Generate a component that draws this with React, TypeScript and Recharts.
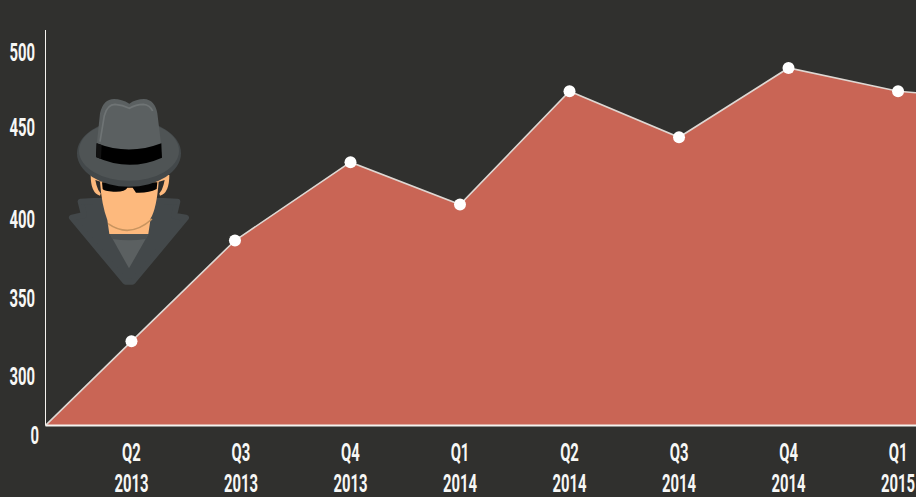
import React from 'react'
import { AreaChart, Area, XAxis, YAxis } from 'recharts'

const quarterPos = [1.215, 2, 2.945, 4, 5, 6, 7, 8, 9, 9.164]
const values = [0, 322.5, 387, 431.5, 408.5, 474.5, 445, 490, 474.5, 473.5]
const quarterTicks = [2, 3, 4, 5, 6, 7, 8, 9]
const quarterLabels = ['Q2', 'Q3', 'Q4', 'Q1', 'Q2', 'Q3', 'Q4', 'Q1']
const yearLabels = ['2013', '2013', '2013', '2014', '2014', '2014', '2014', '2015']
const valueTicks = [0, 300, 350, 400, 450, 500]

// the y axis of the original is not linear, it is broken below 300
const scaleValues = [0, 300, 350, 400, 450, 500, 515]
const scaleFractions = [0, 0.124, 0.3215, 0.519, 0.752, 0.942, 1]

const data = quarterPos.map((q, i) => ({ q, value: values[i] }))

function brokenScale(dom: any = [0, 515], rng: any = [1, 0]) {
  const s: any = (v: number) => {
    let i = 0
    while (i < scaleValues.length - 2 && v > scaleValues[i + 1]) i++
    const t = (v - scaleValues[i]) / (scaleValues[i + 1] - scaleValues[i])
    const f = scaleFractions[i] + t * (scaleFractions[i + 1] - scaleFractions[i])
    return rng[0] + f * (rng[1] - rng[0])
  }
  s.domain = (d?: any) => (d ? brokenScale(d, rng) : dom)
  s.range = (r?: any) => (r ? brokenScale(dom, r) : rng)
  s.copy = () => brokenScale(dom, rng)
  s.ticks = () => valueTicks
  s.bandwidth = () => 0
  return s
}

// the original font is very condensed, so squeeze Roboto sideways
function Label({ x, y, text, anchor = 'middle' }: any) {
  return (
    <text
      transform={`translate(${x},${y}) scale(0.56,1)`}
      textAnchor={anchor}
      dominantBaseline="central"
      fontFamily="Roboto, sans-serif"
      fontWeight={700}
      fontSize={26.5}
      fill="#f7f7f5"
    >
      {text}
    </text>
  )
}

function YTick({ y, payload }: any) {
  if (payload.value === 0) return <Label x={39} y={y + 9} text="0" anchor="end" />
  return <Label x={35} y={y - 1} text={payload.value} anchor="end" />
}

function XTick({ x, payload }: any) {
  const i = quarterTicks.indexOf(payload.value)
  return (
    <g>
      <Label x={x} y={452} text={quarterLabels[i]} />
      <Label x={x} y={483} text={yearLabels[i]} />
    </g>
  )
}

function Dot({ cx, cy, index }: any) {
  if (index === 0 || index === values.length - 1) return <g key={index} />
  return <circle key={index} cx={cx} cy={cy} r={6} fill="#ffffff" />
}

function Spy() {
  return (
    <svg
      viewBox="0 0 480 630"
      width={160}
      height={210}
      style={{ position: 'absolute', left: 50, top: 85 }}
    >
      <path
        d="M92 350 L130 348 L340 348 L382 350 L372 392 L408 398 L248 590 L226 590 L66 398 L102 390 Z"
        fill="#43484a"
        stroke="#43484a"
        strokeWidth={18}
        strokeLinejoin="round"
      />
      <path d="M180 448 L295 448 L237 550 Z" fill="#5b6061" />
      <path d="M180 448 L295 448 L288 462 Q237 470 187 462 Z" fill="#4b5051" />
      <path d="M122 270 Q122 325 150 332 L170 270 Z" fill="#fdb97d" />
      <path d="M358 270 Q358 325 330 332 L310 270 Z" fill="#fdb97d" />
      <path d="M136 285 L156 292 L158 330 Q142 320 136 285 Z" fill="#2b2b2b" />
      <path d="M344 285 L322 292 L322 330 Q338 320 344 285 Z" fill="#2b2b2b" />
      <path
        d="M150 290 L326 290 Q320 370 302 400 L295 447 L178 447 L172 405 Q155 360 150 290 Z"
        fill="#fdb97d"
      />
      <path d="M174 416 Q240 462 306 402" fill="none" stroke="#c8945f" strokeWidth={5} />
      <path d="M156 292 L322 292 L320 312 Q295 325 258 323 L248 308 L232 308 Q225 322 190 320 Q162 318 158 312 Z" fill="#050505" />
      <ellipse cx="237" cy="205" rx="156" ry="100" fill="#43484a" />
      <ellipse cx="237" cy="197" rx="150" ry="90" fill="#4f5455" />
      <path
        d="M138 200 L150 85 Q160 42 192 42 Q215 42 238 56 Q258 42 282 42 Q315 44 322 85 L336 200 Q237 250 138 200 Z"
        fill="#5b6061"
      />
      <path
        d="M150 170 L163 92 Q172 58 195 58 Q218 60 238 70 Q258 58 280 58 Q300 60 308 78"
        fill="none"
        stroke="#6f7475"
        strokeWidth={5}
      />
      <path d="M140 175 Q237 212 334 175 L336 218 Q237 262 138 216 Z" fill="#000000" />
      <path d="M140 175 L155 180 L153 222 L138 216 Z" fill="#111111" />
    </svg>
  )
}

export default function App() {
  return (
    <div
      style={{
        position: 'absolute',
        left: 0,
        top: 0,
        width: 916,
        height: 497,
        background: '#30302e',
        overflow: 'hidden',
      }}
    >
      <AreaChart
        width={916}
        height={497}
        data={data}
        margin={{ top: 30, right: 0, bottom: 0, left: 0 }}
      >
        <XAxis
          dataKey="q"
          type="number"
          domain={[1.215, 9.164]}
          ticks={quarterTicks}
          allowDataOverflow
          height={71.5}
          tickLine={false}
          axisLine={{ stroke: '#f4f2ee', strokeWidth: 2 }}
          tick={<XTick />}
          interval={0}
        />
        <YAxis
          type="number"
          domain={[0, 515]}
          scale={brokenScale()}
          ticks={valueTicks}
          width={45.5}
          tickLine={false}
          axisLine={{ stroke: '#f4f2ee', strokeWidth: 1 }}
          tick={<YTick />}
          interval={0}
        />
        <Area
          dataKey="value"
          type="linear"
          stroke="#dfd8d3"
          strokeWidth={1.6}
          fill="#c96555"
          fillOpacity={1}
          dot={<Dot />}
          activeDot={false}
          isAnimationActive={false}
        />
      </AreaChart>
      <Spy />
    </div>
  )
}
